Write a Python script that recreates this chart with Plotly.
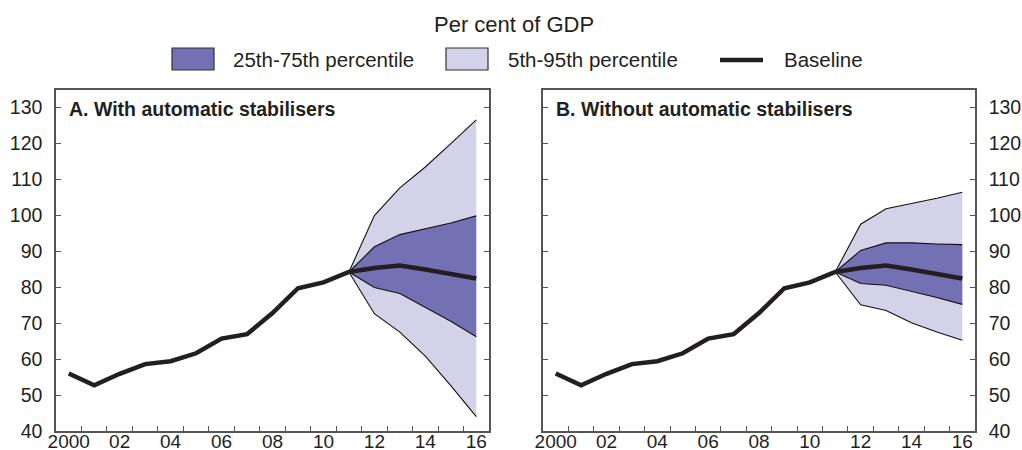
import plotly.graph_objects as go

# Debt ratio, per cent of GDP
years = list(range(2000, 2017))
baseline = [56.0, 52.7, 55.9, 58.6, 59.4, 61.6, 65.7, 66.9, 72.8, 79.7,
            81.3, 84.2, 85.3, 86.0, 84.9, 83.7, 82.4]

# Projection fan (2011-2016)
proj_years = list(range(2011, 2017))
a_p5 = [84.2, 72.6, 67.5, 60.8, 52.6, 44.0]
a_p25 = [84.2, 79.9, 78.2, 74.3, 70.5, 66.2]
a_p75 = [84.2, 91.2, 94.6, 96.1, 97.8, 99.8]
a_p95 = [84.2, 99.9, 107.6, 113.4, 119.9, 126.5]

b_p5 = [84.2, 75.1, 73.5, 70.1, 67.5, 65.2]
b_p25 = [84.2, 81.0, 80.5, 78.9, 77.1, 75.2]
b_p75 = [84.2, 90.2, 92.3, 92.3, 92.0, 91.8]
b_p95 = [84.2, 97.5, 101.8, 103.2, 104.7, 106.4]

x_tick_vals = list(range(2000, 2017, 2))
x_tick_text = ["2000", "02", "04", "06", "08", "10", "12", "14", "16"]
y_tick_vals = list(range(40, 131, 10))

panel_titles = ["A. With automatic stabilisers", "B. Without automatic stabilisers"]
legend_labels = ["25th-75th percentile", "5th-95th percentile", "Baseline"]
chart_title = "Per cent of GDP"

DARK = "#7470B4"
LIGHT = "#D4D2E8"
LINE = "#231F20"
AXIS = "#555555"
FONT = "Liberation Sans, Arial, sans-serif"

W, H = 1022, 450


def px(x):
    return x / W


def py(y):
    return 1 - y / H


fig = go.Figure()

panels = [
    ("x", "y", a_p5, a_p25, a_p75, a_p95),
    ("x2", "y2", b_p5, b_p25, b_p75, b_p95),
]

for xa, ya, p5, p25, p75, p95 in panels:
    fig.add_trace(go.Scatter(
        x=proj_years + proj_years[::-1], y=p95 + p5[::-1],
        fill="toself", fillcolor=LIGHT, line=dict(width=0),
        mode="lines", xaxis=xa, yaxis=ya, hoverinfo="skip", showlegend=False))
    fig.add_trace(go.Scatter(
        x=proj_years + proj_years[::-1], y=p75 + p25[::-1],
        fill="toself", fillcolor=DARK, line=dict(width=0),
        mode="lines", xaxis=xa, yaxis=ya, hoverinfo="skip", showlegend=False))
    for edge in (p5, p25, p75, p95):
        fig.add_trace(go.Scatter(
            x=proj_years, y=edge, mode="lines",
            line=dict(color="#111111", width=1.1),
            xaxis=xa, yaxis=ya, showlegend=False))
    fig.add_trace(go.Scatter(
        x=years, y=baseline, mode="lines",
        line=dict(color=LINE, width=4.5),
        xaxis=xa, yaxis=ya, showlegend=False))

common_x = dict(
    range=[1999.5, 2016.5], tickmode="array", tickvals=x_tick_vals,
    ticktext=x_tick_text, ticks="", showgrid=False, zeroline=False,
    showline=True, linecolor=AXIS, linewidth=1.5, mirror=True,
    automargin=False, ticklabelstandoff=-8,
    tickfont=dict(family=FONT, size=19, color="#231F20"),
    minor=dict(tickmode="array", tickvals=[v + 0.5 for v in range(2000, 2016)],
               ticks="inside", ticklen=5, tickwidth=1, tickcolor=AXIS),
)
common_y = dict(
    range=[40, 134.8], tickmode="array", tickvals=y_tick_vals,
    ticks="inside", ticklen=5, tickwidth=1, tickcolor=AXIS,
    showgrid=False, zeroline=False, showline=True, linecolor=AXIS,
    linewidth=1.5, mirror="ticks", automargin=False,
    tickfont=dict(family=FONT, size=19.5, color="#231F20"),
    ticklabelstandoff=8,
)

ydom = [py(431), py(90)]
fig.update_layout(
    width=W, height=H, margin=dict(l=0, r=0, t=0, b=0, autoexpand=False),
    paper_bgcolor="white", plot_bgcolor="white",
    showlegend=False,
    xaxis=dict(domain=[px(56), px(489)], anchor="y", **common_x),
    yaxis=dict(domain=ydom, anchor="x", side="left", **common_y),
    xaxis2=dict(domain=[px(543), px(975)], anchor="y2", **common_x),
    yaxis2=dict(domain=ydom, anchor="x2", side="right", **common_y),
)

annotations = [
    dict(text=chart_title, x=px(514), y=py(24), xref="paper", yref="paper",
         xanchor="center", yanchor="middle", showarrow=False,
         font=dict(family=FONT, size=22, color="#231F20")),
    dict(text="<b>" + panel_titles[0] + "</b>", x=px(67), y=py(109),
         xref="paper", yref="paper", xanchor="left", yanchor="middle",
         showarrow=False, font=dict(family=FONT, size=19.5, color="#231F20")),
    dict(text="<b>" + panel_titles[1] + "</b>", x=px(554), y=py(109),
         xref="paper", yref="paper", xanchor="left", yanchor="middle",
         showarrow=False, font=dict(family=FONT, size=19.5, color="#231F20")),
]
for label, x0 in zip(legend_labels, [231, 506, 782]):
    annotations.append(dict(
        text=label, x=px(x0), y=py(60), xref="paper", yref="paper",
        xanchor="left", yanchor="middle", showarrow=False,
        font=dict(family=FONT, size=20.5, color="#231F20")))

shapes = [
    dict(type="rect", xref="paper", yref="paper",
         x0=px(172), x1=px(214), y0=py(70), y1=py(48),
         fillcolor=DARK, line=dict(color="#333333", width=1.2)),
    dict(type="rect", xref="paper", yref="paper",
         x0=px(446), x1=px(488), y0=py(70), y1=py(48),
         fillcolor=LIGHT, line=dict(color="#333333", width=1.2)),
    dict(type="line", xref="paper", yref="paper",
         x0=px(720), x1=px(763), y0=py(60), y1=py(60),
         line=dict(color=LINE, width=4.5)),
]

fig.update_layout(annotations=annotations, shapes=shapes)
fig.write_html("out.html")
